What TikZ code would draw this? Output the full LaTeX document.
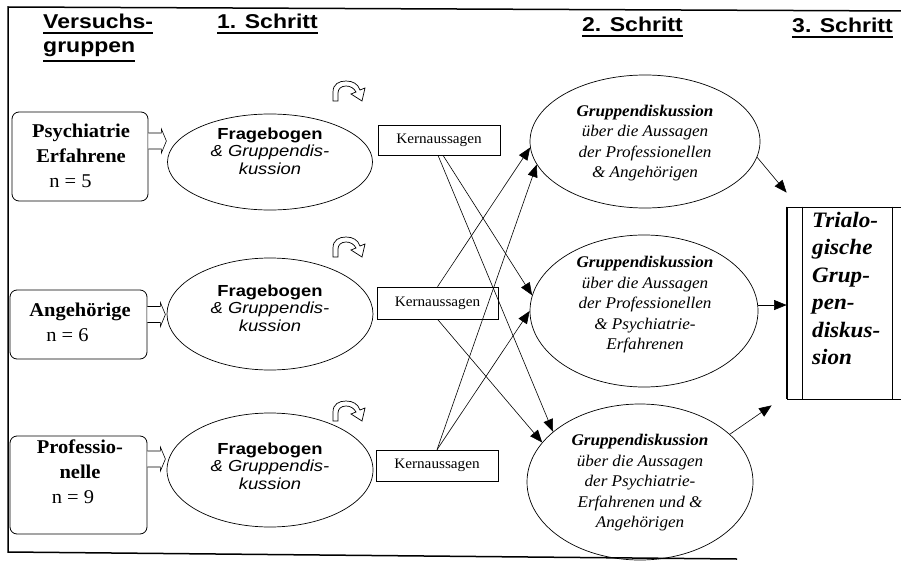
\documentclass[tikz,border=0pt]{standalone}
\usepackage{fontspec}
\setmainfont{Liberation Serif}[FakeStretch=1.05]
\setsansfont{Liberation Sans}[FakeStretch=1.15]
\usetikzlibrary{arrows.meta,calc,shapes.geometric}
\tikzset{
  turnicon/.pic={
    \draw[line width=0.7pt, fill=white] (0,20) -- (0,11) .. controls (0,3) and (6,0) .. (13,0)
      .. controls (20,0) and (25,3) .. (27,9) -- (32,7) -- (29,20) -- (18,13) -- (23,11)
      .. controls (21,7) and (17,5) .. (13,5) .. controls (8,5) and (5,8) .. (5,12) -- (5,20) -- cycle;
  }
}
\begin{document}
\begin{tikzpicture}[x=1pt,y=-1pt,
  hdr/.style={font=\sffamily\bfseries\fontsize{20}{24}\selectfont, inner sep=0pt, anchor=base west},
  ul/.style={line width=1.6pt},
  grp/.style={draw, line width=0.8pt, rounded corners=7pt, inner sep=0pt},
  grptext/.style={font=\fontsize{19.5}{25}\selectfont, align=center, inner sep=0pt},
  ell/.style={draw, ellipse, line width=0.7pt, inner sep=0pt},
  ftext/.style={font=\sffamily\fontsize{16}{17.5}\selectfont, align=center, inner sep=0pt},
  gtext/.style={font=\itshape\fontsize{16.3}{20.5}\selectfont, align=center, inner sep=0pt},
  kern/.style={draw, line width=0.6pt, minimum width=122pt, minimum height=31pt, inner sep=0pt, font=\fontsize{14.5}{16}\selectfont},
  arr/.style={line width=0.6pt, -{Triangle[length=12.5pt,width=10pt]}},
  blockarr/.style={draw, line width=0.6pt, fill=white}
]
\useasboundingbox (0,0) rectangle (901,567);

% outer frame
\draw[line width=1.5pt] (905,11) -- (8,7) -- (8,552) -- (737,559);

% headers
\node[hdr] (h0) at (43,29) {Versuchs-};
\node[hdr] (h0b) at (43,53) {gruppen};
\node[hdr] (h1) at (217,29) {1. Schritt};
\node[hdr] (h2) at (582,32) {2. Schritt};
\node[hdr] (h3) at (792,33) {3. Schritt};
\foreach \h in {h0,h0b,h1,h2,h3}
  \draw[ul] ([yshift=-3.5pt]\h.south west) -- ([yshift=-3.5pt]\h.south east);

% groups
\node[grp, minimum width=136pt, minimum height=89pt] (pe) at (80,156.5) {};
\node[grp, minimum width=137pt, minimum height=69pt] (an) at (78.5,324.5) {};
\node[grp, minimum width=137pt, minimum height=98pt] (pr) at (78.5,485) {};
\node[grptext] (pet) at (81,156) {\textbf{Psychiatrie}\\\textbf{Erfahrene}\\\hspace*{-21pt}n = 5};
\node[grptext] (ant) at (80,322) {\textbf{Angehörige}\\\hspace*{-25pt}n = 6};
\node[grptext] (prt) at (80,472) {\textbf{Professio-}\\\textbf{nelle}\\\hspace*{-14pt}n = 9};

% step 1 ellipses
\node[ell, minimum width=205pt, minimum height=96pt] (e1) at (270,162) {};
\node[ell, minimum width=206pt, minimum height=112pt] (e2) at (270,314) {};
\node[ell, minimum width=206pt, minimum height=114pt] (e3) at (270,470) {};
\node[ftext] (e1t) at (270,151) {\textbf{Fragebogen}\\\textit{\& Gruppendis-}\\\textit{kussion}};
\node[ftext] (e2t) at (270,308) {\textbf{Fragebogen}\\\textit{\& Gruppendis-}\\\textit{kussion}};
\node[ftext] (e3t) at (270,466) {\textbf{Fragebogen}\\\textit{\& Gruppendis-}\\\textit{kussion}};

% block arrows group -> ellipse
\foreach \b/\dy in {pe/-15.5, an/-10, pr/-26}
  \draw[blockarr] ($(\b.east)+(0,\dy)$) ++(0,-8) -- ++(13,0) -- ++(0,-4) -- ++(5,12)
     -- ++(-5,12) -- ++(0,-4) -- ++(-13,0);

% turn icons
\pic at (333,81) {turnicon};
\pic at (333,237) {turnicon};
\pic at (333,401) {turnicon};

% Kernaussagen
\node[kern, minimum height=30pt] (k1) at (439,140) {Kernaussagen};
\node[kern, minimum width=121pt, minimum height=32pt] (k2) at (437.5,303) {Kernaussagen};
\node[kern] (k3) at (437,465.5) {Kernaussagen};

% step 2 ellipses
\node[ell, minimum width=230pt, minimum height=133pt] (g1) at (645,141.5) {};
\node[ell, minimum width=228pt, minimum height=152pt] (g2) at (644,311) {};
\node[ell, minimum width=226pt, minimum height=156pt] (g3) at (640,482) {};
\node[gtext] (g1t) at (645,143) {\textbf{Gruppendiskussion}\\über die Aussagen\\der Professionellen\\\& Angehörigen};
\node[gtext] (g2t) at (645,305) {\textbf{Gruppendiskussion}\\über die Aussagen\\der Professionellen\\\& Psychiatrie-\\Erfahrenen};
\node[gtext] (g3t) at (640,483) {\textbf{Gruppendiskussion}\\über die Aussagen\\der Psychiatrie-\\Erfahrenen und \&\\Angehörigen};

% step 3 box
\node[draw, line width=0.8pt, minimum width=120pt, minimum height=192pt, inner sep=0pt] (tri) at (847,303) {};
\draw[line width=1.2pt] (tri.north west) -- (tri.south west);
\draw[line width=0.5pt] ([xshift=16pt]tri.north west) -- ([xshift=16pt]tri.south west);
\draw[line width=0.5pt] ([xshift=106pt]tri.north west) -- ([xshift=106pt]tri.south west);
\node[font=\bfseries\itshape\fontsize{22}{27.5}\selectfont, align=left, inner sep=0pt, anchor=north west] (trit) at (812,212)
  {Trialo-\\gische\\Grup-\\pen-\\diskus-\\sion};

% connectors Kernaussagen -> step 2
\draw[arr] ([xshift=-1pt]k1.south) -- (g3.150);
\draw[arr] ([xshift=4pt]k1.south) -- (g2.172);
\draw[arr] (k2.north) -- (g1.183);
\draw[arr] (k2.south) -- (g3.158);
\draw[arr] (k3.north) -- (g1.192);
\draw[arr] (k3.north) -- (g2.west);

% step 2 -> step 3
\draw[arr] (g1.-8) -- ([yshift=14pt]tri.north west);
\draw[arr] (g2.3) -- (g2.3 -| tri.west);
\draw[arr] (g3.28) -- ([xshift=-15pt,yshift=-6pt]tri.south west);
\end{tikzpicture}
\end{document}
